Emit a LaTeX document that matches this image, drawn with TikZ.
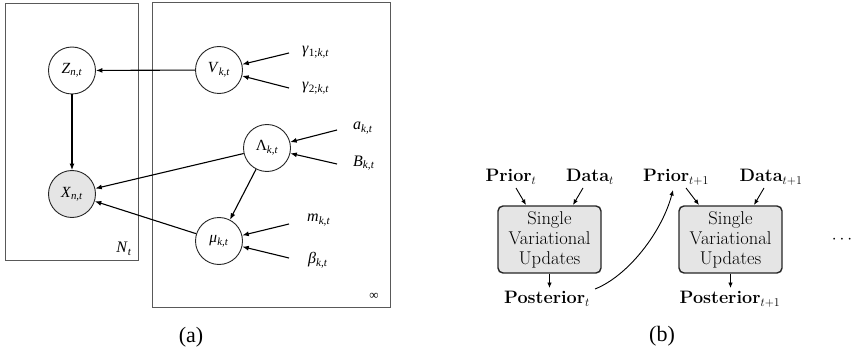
\documentclass[tikz,border=0pt]{standalone}
\usepackage{fontspec}
\newfontfamily\tms{Liberation Serif}
\usetikzlibrary{arrows.meta}
\newcommand\iv[2]{\textit{#1}\textsubscript{\textit{#2}}}
\begin{document}
\begin{tikzpicture}[x=1pt,y=-1pt,
 arr/.style={-{Latex[length=6.5pt,width=5pt]}, line width=1.1pt},
 rv/.style={circle, draw=black!85, line width=0.9pt, minimum size=47pt, inner sep=0pt, font=\tms\fontsize{15.5}{18}\selectfont},
 obs/.style={rv, fill=black!10},
 lab/.style={inner sep=0pt, font=\tms\fontsize{16}{18}\selectfont},
 plate/.style={draw=black!65, line width=1pt},
 blab/.style={inner sep=1pt, font=\fontsize{18}{20}\selectfont},
 upd/.style={draw=black!85, line width=1.4pt, rounded corners=5pt, fill=black!10, text=black, minimum width=103pt, minimum height=67pt, align=center, inner sep=0pt, font=\fontsize{18.5}{20}\selectfont},
 sarr/.style={-{Latex[length=5.5pt,width=4.5pt]}, line width=0.9pt},
 capt/.style={inner sep=0pt, font=\tms\fontsize{22}{24}\selectfont}]
\useasboundingbox (0,0) rectangle (854,350);
% ---------- (a) ----------
\draw[plate] (5,4) rectangle (138,260);
\draw[plate] (152,3) rectangle (390,307);
\node[rv] (Z) at (72,70.5) {\iv{Z}{n,t}};
\node[obs] (X) at (72,194) {\iv{X}{n,t}};
\node[rv] (V) at (219,70) {\iv{V}{k,t}};
\node[rv] (L) at (267,148) {Λ\textsubscript{\textit{k,t}}};
\node[rv] (M) at (219,241) {\iv{μ}{k,t}};
\node[lab, anchor=west] (g1) at (302,52) {\textit{γ}\textsubscript{1;\textit{k,t}}};
\node[lab, anchor=west] (g2) at (302,88) {\textit{γ}\textsubscript{2;\textit{k,t}}};
\node[lab, anchor=west] (a) at (353,128) {\iv{a}{k,t}};
\node[lab, anchor=west] (B) at (353,163) {\iv{B}{k,t}};
\node[lab, anchor=west] (m) at (307,220) {\iv{m}{k,t}};
\node[lab, anchor=west] (be) at (308,260) {\iv{β}{k,t}};
\node[lab] (N) at (124,249) {\iv{N}{t}};
\node[lab, font=\tms\fontsize{13}{15}\selectfont] (inf) at (374,296) {∞};
\node[capt] (capa) at (191,337) {(a)};
\coordinate (g1s) at (289,53);
\coordinate (g2s) at (289,88);
\coordinate (as) at (337,130);
\coordinate (Bs) at (337,164);
\coordinate (ms) at (289,224);
\coordinate (bs) at (289,258);
\draw[arr] (V) -- (Z);
\draw[arr] (Z) -- (X);
\draw[arr] (L) -- (X);
\draw[arr] (M) -- (X);
\draw[arr] (L) -- (M);
\draw[arr] (g1s) -- (V);
\draw[arr] (g2s) -- (V);
\draw[arr] (as) -- (L);
\draw[arr] (Bs) -- (L);
\draw[arr] (ms) -- (M);
\draw[arr] (bs) -- (M);
% ---------- (b) ----------
\node[upd] (U1) at (549.5,239.5) {Single\\Variational\\Updates};
\node[upd] (U2) at (730.5,239.5) {Single\\Variational\\Updates};
\node[blab] (P1) at (511,177) {\textbf{Prior}$_t$};
\node[blab] (D1) at (590,177) {\textbf{Data}$_t$};
\node[blab] (P2) at (676,177) {\textbf{Prior}$_{t+1}$};
\node[blab] (D2) at (771,177) {\textbf{Data}$_{t+1}$};
\node[blab] (Q1) at (547,299) {\textbf{Posterior}$_t$};
\node[blab] (Q2) at (730,299) {\textbf{Posterior}$_{t+1}$};
\node[blab] (dots) at (842,240) {$\cdots$};
\node[capt] (capb) at (662,336) {(b)};
\coordinate (p1s) at (516,188);
\coordinate (p1e) at (526,205);
\coordinate (d1s) at (583,188);
\coordinate (d1e) at (573,205);
\coordinate (p2s) at (686,188);
\coordinate (p2e) at (699,205);
\coordinate (d2s) at (764,188);
\coordinate (d2e) at (754,205);
\coordinate (u1b) at (549.5,288);
\coordinate (u2b) at (730.5,288);
\coordinate (q1e) at (595,289);
\coordinate (p2b) at (673,190);
\draw[sarr] (p1s) -- (p1e);
\draw[sarr] (d1s) -- (d1e);
\draw[sarr] (p2s) -- (p2e);
\draw[sarr] (d2s) -- (d2e);
\draw[sarr] (U1.south) -- (u1b);
\draw[sarr] (U2.south) -- (u2b);
\draw[sarr] (q1e) .. controls (628,276) and (662,232) .. (p2b);
\end{tikzpicture}
\end{document}
